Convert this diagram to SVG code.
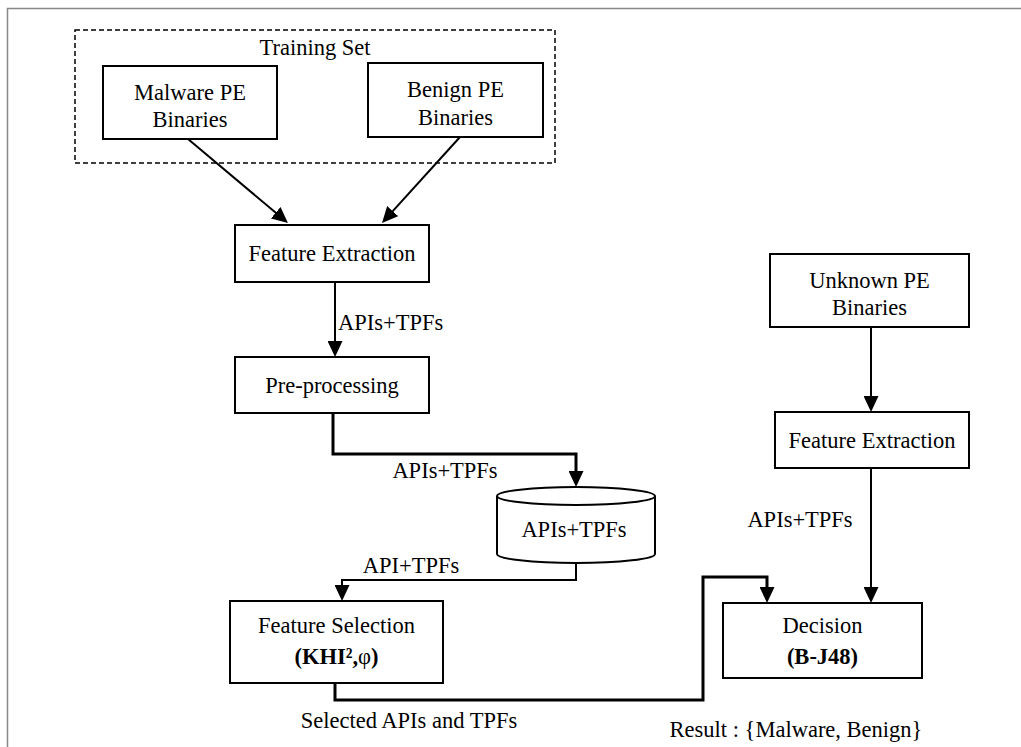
<svg xmlns="http://www.w3.org/2000/svg" width="1021" height="747" viewBox="0 0 1021 747">
<style>
  text { font-family: "Liberation Serif", "Times New Roman", serif; font-size: 22.5px; fill: #000; }
  .c { text-anchor: middle; }
  .b { font-weight: bold; }
  .box { fill: #fff; stroke: #000; stroke-width: 2; }
  .conn { fill: none; stroke: #000; stroke-width: 2; }
  .thick { stroke-width: 3; }
</style>
<defs>
  <marker id="arr" viewBox="0 0 16 15" markerWidth="16" markerHeight="15" refX="6" refY="7.5" orient="auto" markerUnits="userSpaceOnUse">
    <path d="M0,0 L16,7.5 L0,15 z" fill="#000"/>
  </marker>
</defs>
<rect x="0" y="0" width="1021" height="747" fill="#fff"/>
<path d="M7.5,747 V8.5 H1021" fill="none" stroke="#888" stroke-width="1.5"/>

<g id="training-set">
  <rect x="75" y="30" width="480" height="133" fill="none" stroke="#000" stroke-width="1.5" stroke-dasharray="5,3"/>
  <text class="c" x="315" y="55">Training Set</text>
</g>
<g id="malware">
  <rect class="box" x="103" y="66" width="174" height="73"/>
  <text class="c" x="190" y="100">Malware PE</text>
  <text class="c" x="190" y="127">Binaries</text>
</g>
<g id="benign">
  <rect class="box" x="368" y="63" width="175" height="74"/>
  <text class="c" x="455.5" y="97">Benign PE</text>
  <text class="c" x="455.5" y="125">Binaries</text>
</g>
<g id="feature-extraction-1">
  <rect class="box" x="235" y="225" width="194" height="57"/>
  <text class="c" x="332" y="261">Feature Extraction</text>
</g>
<g id="preprocessing">
  <rect class="box" x="235" y="357" width="194" height="56"/>
  <text class="c" x="332" y="393">Pre-processing</text>
</g>
<g id="database">
  <path d="M497,496 V554 A79,9 0 0 0 655,554 V496" class="box"/>
  <ellipse cx="576" cy="496" rx="79" ry="9" class="box"/>
  <text class="c" x="574" y="537">APIs+TPFs</text>
</g>
<g id="feature-selection">
  <rect class="box" x="230" y="601" width="213" height="82"/>
  <text class="c" x="336.5" y="633">Feature Selection</text>
  <text class="c" x="336.5" y="664"><tspan class="b">(KHI²,</tspan>φ<tspan class="b">)</tspan></text>
</g>
<g id="unknown">
  <rect class="box" x="770" y="254" width="199" height="73"/>
  <text class="c" x="869.5" y="288">Unknown PE</text>
  <text class="c" x="869.5" y="315">Binaries</text>
</g>
<g id="feature-extraction-2">
  <rect class="box" x="775" y="412" width="194" height="56"/>
  <text class="c" x="872" y="448">Feature Extraction</text>
</g>
<g id="decision">
  <rect class="box" x="723" y="603" width="199" height="75"/>
  <text class="c" x="822.5" y="633">Decision</text>
  <text class="c b" x="822.5" y="664">(B-J48)</text>
</g>

<g id="connectors">
  <line class="conn" x1="188" y1="139" x2="280.3" y2="216.6" marker-end="url(#arr)"/>
  <line class="conn" x1="460" y1="137" x2="388.7" y2="215.6" marker-end="url(#arr)"/>
  <line class="conn" x1="335" y1="282" x2="335" y2="347" marker-end="url(#arr)"/>
  <path class="conn thick" d="M333,413 V454 H576 V477" marker-end="url(#arr)"/>
  <path class="conn" d="M576,563 V580 H342 V591" marker-end="url(#arr)"/>
  <path class="conn thick" d="M335,683 V700 H703 V577 H767 V593" marker-end="url(#arr)"/>
  <line class="conn" x1="871" y1="327" x2="871" y2="402" marker-end="url(#arr)"/>
  <line class="conn" x1="871" y1="468" x2="871" y2="593" marker-end="url(#arr)"/>
</g>
<g id="labels">
  <text x="338" y="330">APIs+TPFs</text>
  <text class="c" x="445" y="478">APIs+TPFs</text>
  <text class="c" x="411" y="573">API+TPFs</text>
  <text class="c" x="409" y="728">Selected APIs and TPFs</text>
  <text class="c" x="800" y="527">APIs+TPFs</text>
  <text class="c" x="796" y="737">Result : {Malware, Benign}</text>
</g>
</svg>
